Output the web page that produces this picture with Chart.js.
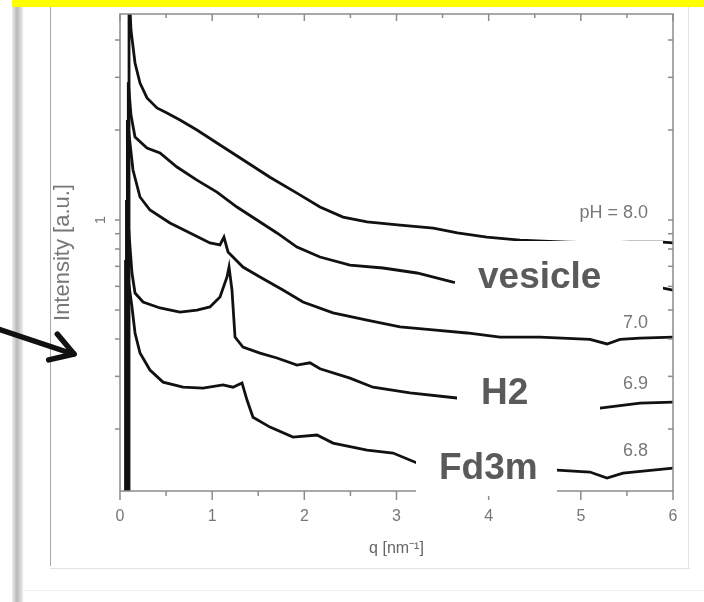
<!DOCTYPE html>
<html><head><meta charset="utf-8">
<script src="https://cdn.jsdelivr.net/npm/chart.js@4/dist/chart.umd.min.js"></script>
<style>html,body{margin:0;padding:0;background:#fff;}canvas{display:block;}</style>
</head><body>
<canvas id="c" width="704" height="602"></canvas>
<script>
// ---- data (q in nm^-1, intensity in a.u.) ----
const qA = [0.098, 0.098, 0.119, 0.163, 0.217, 0.293, 0.401, 0.51, 0.651, 0.835, 1.052, 1.334, 1.627, 1.92, 2.17, 2.42, 2.68, 3.04, 3.40, 3.66, 3.98, 4.34, 4.85, 5.21, 5.53, 5.89, 6.0];
const iA = [0.05, 6.0, 4.32, 3.35, 2.87, 2.56, 2.37, 2.28, 2.16, 2.00, 1.81, 1.59, 1.39, 1.23, 1.105, 1.023, 0.985, 0.962, 0.94, 0.905, 0.877, 0.857, 0.844, 0.838, 0.844, 0.844, 0.838];

const qB = [0.09, 0.09, 0.119, 0.163, 0.293, 0.434, 0.618, 0.835, 1.052, 1.269, 1.486, 1.703, 1.92, 2.17, 2.495, 2.853, 3.222, 3.613, 4.123, 4.665, 5.208, 5.891, 6.0];
const iB = [0.05, 2.89, 2.245, 1.895, 1.741, 1.675, 1.504, 1.36, 1.24, 1.105, 1.0, 0.905, 0.812, 0.752, 0.707, 0.691, 0.665, 0.62, 0.611, 0.602, 0.592, 0.592, 0.583];

const qC = [0.08, 0.08, 0.141, 0.217, 0.325, 0.542, 0.76, 0.976, 1.085, 1.128, 1.172, 1.334, 1.519, 1.768, 1.985, 2.311, 2.68, 3.038, 3.396, 3.765, 4.123, 4.557, 5.099, 5.284, 5.425, 5.642, 6.0];
const iC = [0.05, 2.16, 1.47, 1.194, 1.08, 0.977, 0.905, 0.838, 0.825, 0.877, 0.782, 0.696, 0.645, 0.583, 0.532, 0.489, 0.463, 0.439, 0.429, 0.419, 0.406, 0.406, 0.399, 0.385, 0.399, 0.403, 0.406];

const qD = [0.07, 0.07, 0.13, 0.163, 0.25, 0.434, 0.651, 0.835, 0.976, 1.085, 1.161, 1.183, 1.215, 1.248, 1.334, 1.519, 1.703, 1.92, 2.061, 2.17, 2.495, 2.745, 3.146, 3.656, 4.123, 4.665, 5.208, 5.642, 6.0];
const iD = [0.05, 1.166, 0.665, 0.57, 0.532, 0.508, 0.492, 0.5, 0.512, 0.553, 0.645, 0.696, 0.583, 0.406, 0.376, 0.359, 0.3455, 0.327, 0.333, 0.318, 0.296, 0.276, 0.264, 0.254, 0.246, 0.2405, 0.235, 0.244, 0.246];

const qE = [0.06, 0.06, 0.13, 0.163, 0.217, 0.325, 0.467, 0.684, 0.90, 1.117, 1.226, 1.324, 1.378, 1.443, 1.627, 1.877, 2.137, 2.311, 2.68, 2.962, 3.222, 3.906, 4.741, 5.099, 5.284, 5.457, 6.0];
const iE = [0.05, 0.735, 0.512, 0.419, 0.359, 0.315, 0.287, 0.276, 0.274, 0.281, 0.276, 0.285, 0.25, 0.219, 0.203, 0.188, 0.191, 0.1795, 0.170, 0.1662, 0.154, 0.1493, 0.1458, 0.1436, 0.1371, 0.1425, 0.148];

const xTickValues = [0, 1, 2, 3, 4, 5, 6];
const xMinorTicks = [0.5, 1.5, 2.5, 3.5, 4.5, 5.5];
const yTickValues = [0.2, 0.3, 0.4, 0.5, 0.6, 0.7, 0.8, 0.9, 1, 2, 3, 4];
const yLabelValues = [1];

const phLabels = ['pH = 8.0', '7.0', '6.9', '6.8'];
const phLabelQ = [5.73, 5.73, 5.73, 5.73];
const phLabelI = [1.055, 0.453, 0.283, 0.169];

const phaseLabels = ['vesicle', 'H2', 'Fd3m'];

// ---- build ----
const series = [[qA, iA], [qB, iB], [qC, iC], [qD, iD], [qE, iE]];
const datasets = series.map(([q, v]) => ({
  data: q.map((x, k) => ({ x: x, y: v[k] })),
  borderColor: '#111', borderWidth: 2.8, pointRadius: 0, tension: 0, fill: false
}));

function seg(ctx, x1, y1, x2, y2) { ctx.beginPath(); ctx.moveTo(x1, y1); ctx.lineTo(x2, y2); ctx.stroke(); }

const deco = {
  id: 'deco',
  beforeDraw(chart) {
    const ctx = chart.ctx;
    ctx.save();
    ctx.fillStyle = '#fff'; ctx.fillRect(0, 0, 704, 602);
    const g = ctx.createLinearGradient(12, 0, 23, 0);
    g.addColorStop(0, '#ececec'); g.addColorStop(0.45, '#b9b9b9'); g.addColorStop(1, '#ececec');
    ctx.fillStyle = g; ctx.fillRect(12, 0, 11, 602);
    ctx.fillStyle = '#ffff00'; ctx.fillRect(12, 0, 692, 7);
    ctx.strokeStyle = '#a8a8a8'; ctx.lineWidth = 1;
    seg(ctx, 50.5, 7, 50.5, 566);
    ctx.strokeStyle = '#e4e4e4';
    seg(ctx, 50, 568.5, 690, 568.5);
    seg(ctx, 688.5, 7, 688.5, 568);
    ctx.strokeStyle = '#f0f0f0';
    seg(ctx, 23, 590.5, 704, 590.5);
    ctx.restore();
  },
  afterDraw(chart) {
    const ctx = chart.ctx;
    const { left, right, top, bottom } = chart.chartArea;
    const xs = chart.scales.x, ys = chart.scales.y;
    ctx.save();
    ctx.strokeStyle = '#8c8c8c'; ctx.lineWidth = 1.5;
    ctx.strokeRect(left, top, right - left, bottom - top);
    xTickValues.forEach(v => { const p = xs.getPixelForValue(v); seg(ctx, p, bottom, p, bottom + 9); seg(ctx, p, top, p, top + 7); });
    xMinorTicks.forEach(v => { const p = xs.getPixelForValue(v); seg(ctx, p, bottom, p, bottom + 5); seg(ctx, p, top, p, top + 4); });
    yTickValues.forEach(v => { const p = ys.getPixelForValue(v); seg(ctx, left - 5, p, left, p); seg(ctx, right - 5, p, right, p); });
    ctx.fillStyle = '#777'; ctx.font = '15px "Liberation Sans", Arial, sans-serif';
    ctx.textAlign = 'center'; ctx.textBaseline = 'middle';
    yLabelValues.forEach(v => {
      ctx.save(); ctx.translate(101, ys.getPixelForValue(v)); ctx.rotate(-Math.PI / 2);
      ctx.fillText(String(v), 0, 0); ctx.restore();
    });
    ctx.font = '18px "Liberation Sans", Arial, sans-serif'; ctx.fillStyle = '#777';
    ctx.textAlign = 'right';
    phLabels.forEach((t, k) => ctx.fillText(t, xs.getPixelForValue(phLabelQ[k]), ys.getPixelForValue(phLabelI[k])));
    const boxes = [[455, 241, 208, 65, 478, 288], [457, 357, 143, 63, 481, 404], [416, 431, 141, 65, 439, 479]];
    ctx.font = 'bold 37px "Liberation Sans", Arial, sans-serif';
    ctx.textAlign = 'left'; ctx.textBaseline = 'alphabetic';
    boxes.forEach((b, k) => {
      ctx.fillStyle = '#fff'; ctx.fillRect(b[0], b[1], b[2], b[3]);
      ctx.fillStyle = '#5a5a5a'; ctx.fillText(phaseLabels[k], b[4], b[5]);
    });
    ctx.strokeStyle = '#111'; ctx.lineWidth = 5.5; ctx.lineCap = 'round'; ctx.lineJoin = 'round';
    seg(ctx, -2, 329, 73, 354);
    const ang = Math.atan2(25, 75);
    [ang + Math.PI - 0.55, ang + Math.PI + 0.55].forEach(a => seg(ctx, 74, 354, 74 + 26 * Math.cos(a), 354 + 26 * Math.sin(a)));
    ctx.restore();
  }
};

new Chart(document.getElementById('c'), {
  type: 'line',
  data: { datasets },
  plugins: [deco],
  options: {
    responsive: false, animation: false,
    layout: { padding: { left: 0, right: 31, top: 14, bottom: 0 } },
    plugins: { legend: { display: false }, tooltip: { enabled: false } },
    scales: {
      x: {
        type: 'linear', min: 0, max: 6,
        grid: { display: false, drawTicks: false }, border: { display: false },
        ticks: { stepSize: 1, color: '#777', font: { size: 16, family: '"Liberation Sans", Arial, sans-serif' }, padding: 16, maxRotation: 0 },
        title: { display: true, text: 'q [nm⁻¹]', color: '#666', font: { size: 16, family: '"Liberation Sans", Arial, sans-serif' }, padding: { top: 0, bottom: 44 } },
        afterFit(s) { s.height = 111; }
      },
      y: {
        type: 'logarithmic', min: 0.1241, max: 4.886,
        grid: { display: false, drawTicks: false }, border: { display: false },
        ticks: { display: false },
        title: { display: true, text: 'Intensity [a.u.]', color: '#777', font: { size: 22, family: '"Liberation Sans", Arial, sans-serif' }, padding: { top: 50, bottom: 0 } },
        afterFit(s) { s.width = 120; }
      }
    }
  }
});
</script>
</body></html>
